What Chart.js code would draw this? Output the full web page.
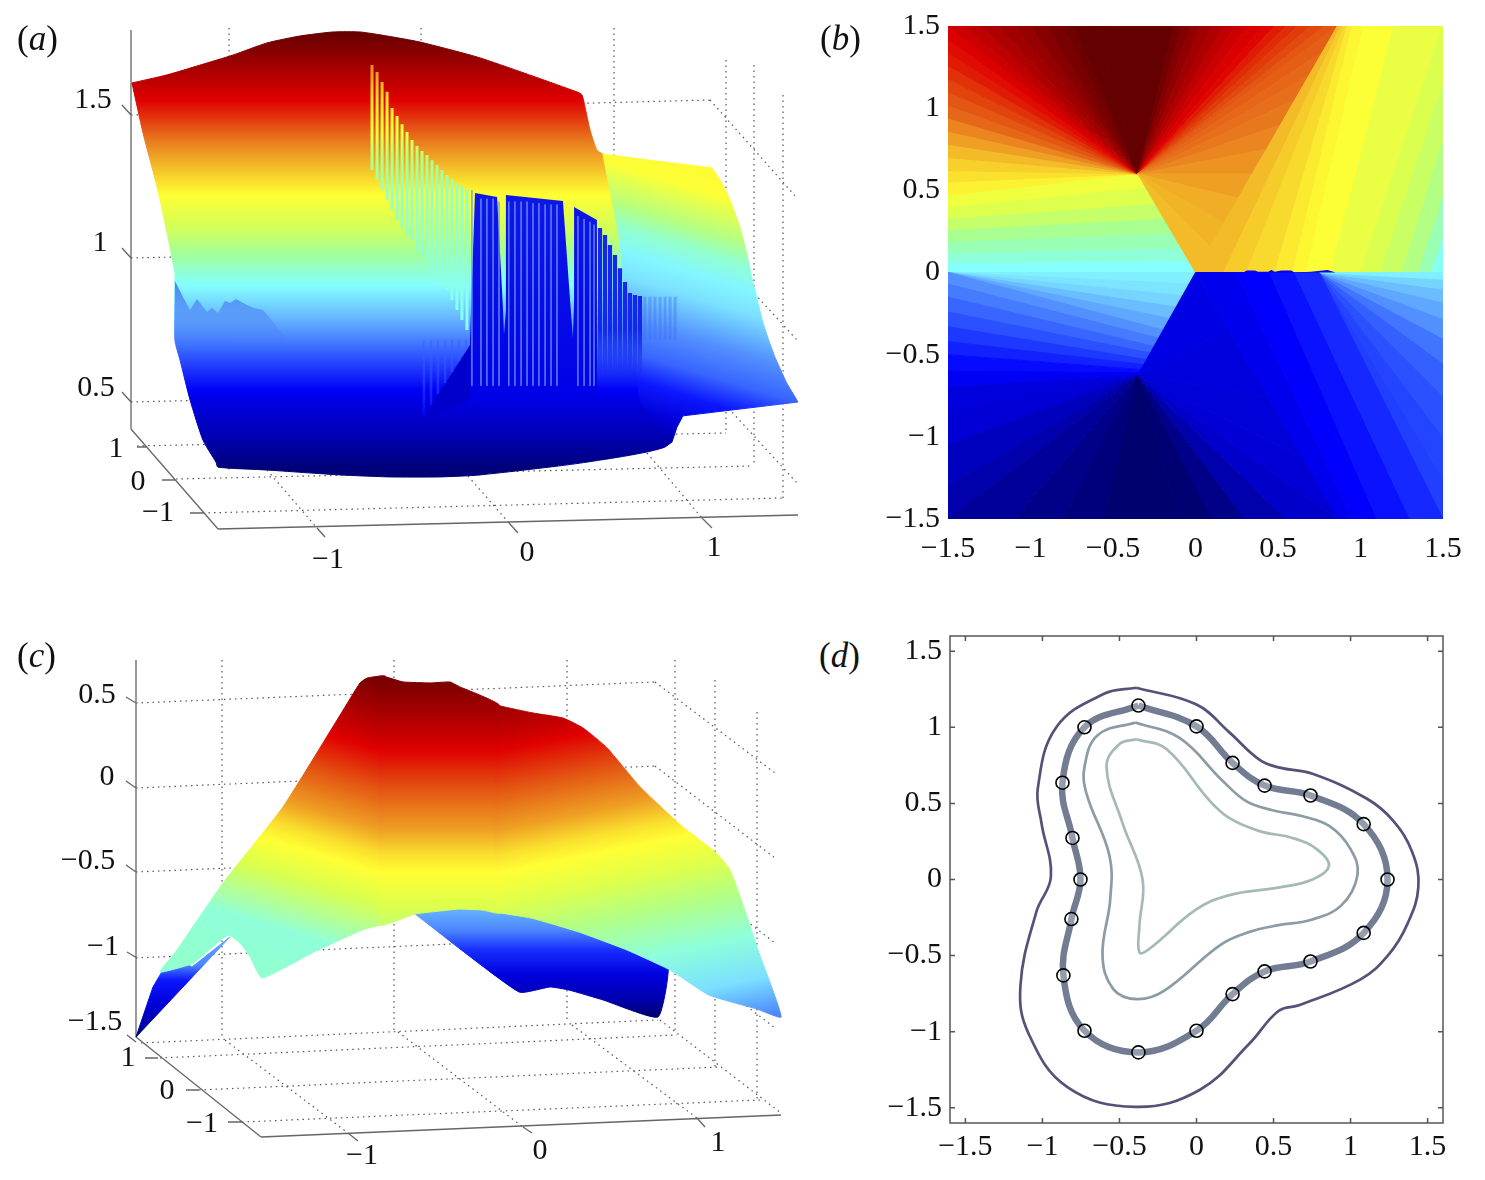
<!DOCTYPE html>
<html>
<head>
<meta charset="utf-8">
<script src="https://cdn.jsdelivr.net/npm/chart.js@4/dist/chart.umd.js"></script>
<style>
  body { margin: 0; background: #fff; width: 1485px; height: 1180px; overflow: hidden; position: relative; }
  canvas { position: absolute; }
  .tag { position: absolute; font: 35px "Liberation Serif", serif; color: #111; line-height: 36px; }
</style>
</head>
<body>
<canvas id="panelA" width="816" height="576" style="left:0;top:0"></canvas>
<canvas id="panelB" width="620" height="575" style="left:860px;top:0"></canvas>
<canvas id="panelC" width="800" height="588" style="left:0;top:586px"></canvas>
<canvas id="panelD" width="620" height="570" style="left:860px;top:610px"></canvas>
<div class="tag" style="left:17px;top:21px">(<i>a</i>)</div>
<div class="tag" style="left:820px;top:21px">(<i>b</i>)</div>
<div class="tag" style="left:17px;top:638px">(<i>c</i>)</div>
<div class="tag" style="left:819px;top:638px">(<i>d</i>)</div>
<script>
// colour scale of the surfaces (level 0..1)
const levelStops = [0, .1, .18, .25, .32, .38, .42, .5, .56, .625, .69, .75, .82, .875, .94, 1];
const levelRgb = [[0,0,110],[0,0,200],[0,0,255],[42,80,255],[90,155,255],[123,224,255],[133,255,255],[160,255,156],
  [216,255,80],[255,255,51],[245,200,42],[232,120,30],[224,60,10],[224,0,0],[160,0,0],[100,0,0]];

// ---- panel (a): surface outline, x / z
const aSurfaceX = [-2.0625,-1.88,-1.708,-1.536,-1.359,-1.1875,-1.016,-.875,-.734,-.5625,-.25,.255,.281,.297,.323,.359,.39,.5,.85,.8,.72,.714,.271,-.25,-.458,-.719,-.979,-1.359,-1.615,-1.625,-1.693,-1.76,-1.8125,-1.839,-1.839,-1.839,-1.88,-1.932,-2.005];
const aSurfaceZ = [1.612,1.64,1.674,1.709,1.751,1.775,1.789,1.789,1.775,1.754,1.699,1.581,1.57,1.528,1.449,1.379,1.365,1.33,1.28,.8,.42,.348,.292,.251,.244,.244,.251,.268,.278,.295,.372,.511,.65,.719,.924,.952,1.091,1.251,1.438];
const aShelfX = [.39,.547,.958,1,1.036,1.068,1.104,1.141,1.172,1.198,1.224,1.255,1.286,1.344,1.406,.807,.776,.75,.714,.583,.505,.479,.427];
const aShelfZ = [1.365,1.351,1.317,1.275,1.23,1.178,1.112,1.015,.917,.848,.778,.716,.66,.574,.504,.456,.417,.365,.348,.511,.858,1.067,1.24];
const aBlockX = [-.276,-.161,-.13,-.125,-.115,-.115,.182,.219,.234,.24,.24,.359,.359,-.302,-.302];
const aBlockZ = [1.23,1.216,.824,.737,.824,1.223,1.202,.858,.726,.858,1.181,1.136,.511,.511,.72];
// columns stepping down on the right of the blocks
const aStepX = [.375,.401,.427,.453,.479,.505,.531,.557,.583];
const aStepTop = [1.108,1.084,1.049,1.015,.969,.921,.883,.876,.872];
const aFaintX = [.609,.635,.661,.688,.714,.74,.766];
const aRippleX = [-1.839,-1.797,-1.76,-1.724,-1.672,-1.646,-1.615,-1.578,-1.552,-1.521,-1.464,-1.432,-1.38,-1.25,-1.839];
const aRippleZ = [.924,.869,.824,.862,.817,.831,.813,.855,.848,.862,.841,.831,.824,.72,.702];
const aToothX = [-.302,-.302,-.5625];
const aToothZ = [.702,.511,.431];
// thin columns falling from the ridge
const aPaleX = [-.8125,-.786,-.76,-.734,-.708,-.682,-.656,-.63,-.604,-.578,-.552,-.526,-.5,-.474,-.448,-.422,-.396,-.37,-.344,-.318];
const aPaleTop = [1.674,1.65,1.615,1.581,1.525,1.497,1.469,1.442,1.414,1.393,1.376,1.362,1.344,1.327,1.31,1.292,1.278,1.265,1.254,1.244];
const aPaleEnd = [1.31,1.275,1.24,1.206,1.171,1.136,1.108,1.084,1.067,1.032,1.015,.997,.963,.945,.91,.893,.858,.824,.789,.754];
const aStreakX = [-.292,-.245,-.214,-.182,-.151,-.1,-.068,-.036,-.005,.026,.057,.089,.12,.151,.26,.292,.323,.344];
const aStreakTop = [1.24,1.21,1.21,1.21,1.2,1.2,1.2,1.2,1.2,1.195,1.195,1.19,1.19,1.19,1.15,1.14,1.13,1.12];
const aToothStripeX = [-.542,-.505,-.469,-.432,-.396,-.359,-.323];
const aToothStripeEnd = [.456,.494,.532,.57,.608,.647,.685];
// colour against height on the picture
const aHeightPx = [32,70,100,140,175,195,230,255,285,320,350,390,410,440,470];
const aHeightLevel = [1,.93,.875,.75,.68,.625,.55,.5,.42,.34,.27,.17,.12,.07,.01];
const aShelfPx = [130,164,190,230,250,275,300,340,373,400,430,460];
const aShelfLevel = [.64,.63,.62,.52,.46,.41,.38,.31,.27,.2,.12,.05];
const aPalePx = [65,100,130,160,190,240,330];
const aPaleLevel = [.74,.66,.6,.52,.47,.46,.42];
const aToothPx = [340,420];
const aToothLevel = [.28,.17];

const aLabels = ['1.5','1','0.5','1','0','−1','−1','0','1'];
const aLabelPos = [[93,100],[100,243],[96,388],[116,449],[138,482],[158,513],[328,560],[527,553],[714,548]];
const aAxisSegs = [[131,30,131,429],[131,429,218,529],[218,529,798,515],
  [122,105,131,115],[122,248,131,258],[122,392,131,402],[137,447,147,447],[162,480,175,480],[190,513,203,513],
  [317,528,325,537],[509,523,518,533],[702,518,712,528]];
const aGridSegs = [[229,28,229,470],[421,28,421,478],[614,28,614,433],[726,60,726,433],[754,65,754,465],[783,95,783,498],
  [131,115,710,100],[710,100,797,198],[131,258,710,245],[710,245,797,340],[131,402,710,388],[710,388,797,483],
  [137,446,726,433],[176,479,753,466],[203,513,782,498],[267,470,317,528],[468,476,509,523],[647,453,702,518]];

// ---- panel (b): fans of shaded sectors
const bUpperApex = [-.35, .6];
const bUpperX = [-1.5,-1.5,-1.5,-1.5,-1.5,-1.5,-1.5,-1.5,-1.5,-1.5,-1.5,-1.5,-1.5,-1.5,
  -1.4,-1.3,-1.2,-1.1,-1,-.9,-.8,-.73,-.6,-.5,-.13,-.08,-.03,.03,.1,.17,.24,.32,.41,.48,.55,.62,.7,.78,.86,
  .78,.69,.6,.52,.43,.34,.26,.17,.09,0];
const bUpperY = [.47,.55,.62,.7,.78,.86,.94,1.02,1.1,1.18,1.26,1.34,1.42,1.5,
  1.5,1.5,1.5,1.5,1.5,1.5,1.5,1.5,1.5,1.5,1.5,1.5,1.5,1.5,1.5,1.5,1.5,1.5,1.5,1.5,1.5,1.5,1.5,1.5,1.5,
  1.35,1.2,1.05,.9,.75,.6,.45,.3,.15,0];
const bUpperLevel = [.64,.66,.68,.7,.72,.74,.77,.79,.81,.83,.85,.865,.88,
  .895,.91,.925,.94,.95,.965,.98,.99,1,1,1,.985,.97,.955,.94,.925,.91,.895,.88,.87,.85,.835,.82,.805,.79,
  .78,.77,.76,.75,.74,.73,.72,.71,.705,.7];
const bMidLeftY = [0,.06,.12,.19,.26,.33,.4,.47];
const bMidRightX = [0,-.04,-.09,-.14,-.19,-.245,-.3,-.35];
const bMidRightY = [0,.07,.15,.24,.33,.42,.52,.6];
const bMidLevel = [.42,.45,.48,.51,.54,.57,.6];
const bRightBaseX = [0,.17,.31,.48,.59,.67,.82,1,1.12,1.25,1.35,1.43,1.5];
const bRightEndX = [.86,.88,.9,.92,.95,1.02,1.2,1.5,1.5,1.5,1.5,1.5,1.5];
const bRightEndY = [1.5,1.5,1.5,1.5,1.5,1.5,1.5,1.5,1.15,.8,.45,.2,0];
const bRightLevel = [.7,.685,.67,.65,.635,.62,.59,.565,.545,.52,.48,.43];
const bPaleApex = [-1.5, 0];
const bPaleX = [0,-.039,-.078,-.118,-.157,-.196];
const bPaleY = [0,-.07,-.14,-.21,-.28,-.35];
const bPaleLevel = [.4,.385,.37,.35,.33];
const bLowLeftY = [0,-.07,-.15,-.24,-.33,-.42,-.5,-.6,-.7];
const bLowRightX = [-.196,-.224,-.252,-.274,-.297,-.314,-.33,-.342,-.35];
const bLowRightY = [-.35,-.4,-.45,-.49,-.53,-.56,-.59,-.61,-.625];
const bLowLevel = [.31,.29,.27,.25,.23,.21,.19,.165];
const bLowerApex = [-.35, -.625];
const bLowerX = [-1.5,-1.5,-1.5,-1.5,-1.5,-1.1,-.8,-.55,-.1,.1,.3,.55,.86,.65,.43,.2,0];
const bLowerY = [-.7,-.85,-1.05,-1.3,-1.5,-1.5,-1.5,-1.5,-1.5,-1.5,-1.5,-1.5,-1.5,-1.13,-.75,-.35,0];
const bLowerLevel = [.13,.12,.09,.07,.05,.03,.015,0,.005,.03,.07,.105,.12,.125,.13,.14];
const bFallTopX = [0,.25,.45,.6,.75];
const bFallEndX = [.86,.95,1.1,1.3,1.5];
const bFallLevel = [.155,.175,.195,.215];
const bEdgeApex = [.75, 0];
const bEdgeY = [-1.5,-1.25,-1,-.75,-.55,-.4,-.28,-.18,-.1,-.04,0];
const bEdgeLevel = [.235,.24,.25,.265,.285,.31,.33,.35,.37,.4];
const bRimX = [.29,.31,.36,.38,.44,.46,.48,.52,.58,.6,.7,.8,.85];
const bRimY = [0,.012,.012,.005,.005,.015,.005,.012,.012,0,.005,.015,0];
const bTicks = [-1.5,-1,-.5,0,.5,1,1.5];

// ---- panel (c)
const cLeftX = [-.8,-.829,-.903,-.943,-1.074,-1.383,-1.726,-1.989,-2.086,-1.92,-1.891,-1.697,-1.629,-1.571,-1.503,-1.206,-.931,-.829,-.8];
const cLeftZ = [.665,.664,.652,.623,.402,-.115,-.568,-.967,-1.098,-1.056,-1.044,-.877,-.925,-1.008,-1.133,-.979,-.848,-.818,-.81];
const cMidX = [-.829,-.811,-.697,-.543,-.429,-.371,-.143,-.143,-.24,-.377,-.629,-.829];
const cMidZ = [.664,.664,.629,.623,.629,.599,.486,-.746,-.729,-.723,-.752,-.818];
const cRightX = [-.17,-.143,.046,.217,.331,.469,.657,.903,1.086,1.171,1.269,1.331,1.463,1.326,1.051,.829,.583,.309,.034,-.143,-.17];
const cRightZ = [.5,.486,.444,.414,.355,.236,.004,-.235,-.383,-.49,-.77,-.967,-1.365,-1.318,-1.235,-1.086,-.967,-.86,-.776,-.746,-.74];
const cUnderX = [-.629,-.377,.034,.583,.817,.76,.446,.251,.143,-.034];
const cUnderZ = [-.752,-.669,-.699,-.877,-1.026,-1.365,-1.264,-1.205,-1.187,-1.217];
const cArmX = [-2.223,-2.126,-2.069,-1.971,-1.903,-1.686];
const cArmZ = [-1.485,-1.187,-1.086,-1.026,-1.068,-.889];
const cHeightPx = [680,700,735,750,790,830,855,873,905,940,985,1030,1070,1090];
const cRightLevel = [.98,.95,.9,.875,.79,.72,.66,.625,.57,.52,.45,.38,.3,.27];
const cLeftPx = [680,700,735,750,790,830,855,873,905,960,1020,1060];
const cLeftLevel = [.98,.95,.9,.875,.79,.72,.66,.625,.56,.45,.46,.44];
const cUnderPx = [910,930,950,975,1000,1017];
const cUnderLevel = [.34,.3,.22,.13,.07,0];
const cArmPx = [937,965,980,1005,1037];
const cArmLevel = [.33,.3,.2,.12,.03];

const cLabels = ['0.5','0','−0.5','−1','−1.5','1','0','−1','−1','0','1'];
const cLabelPos = [[97,695],[107,777],[88,861],[103,947],[95,1022],[128,1058],[167,1091],[202,1124],[362,1156],[540,1151],[718,1143]];
const cAxisSegs = [[136,660,136,1037],[136,1037,261,1137],[261,1137,781,1115],
  [126,697,136,703],[126,781,136,788],[126,865,136,872],[127,952,137,958],[127,1035,136,1042],
  [145,1058,158,1058],[186,1090,199,1090],[228,1122,242,1122],[348,1133,358,1141],[523,1127,532,1133],[697,1118,705,1127]];
const cGridSegs = [[222,660,222,1037],[394,660,394,1030],[567,660,567,1022],[675,660,675,1032],[715,680,715,1067],[757,712,757,1100],
  [136,703,655,682],[655,682,775,773],[136,788,655,766],[655,766,775,858],[136,872,655,850],[655,850,775,943],[136,958,655,935],[655,935,775,1028],
  [141,1043,658,1020],[160,1058,677,1035],[199,1090,718,1067],[242,1122,760,1100],
  [225,1040,348,1133],[398,1032,523,1127],[572,1025,697,1118],[660,1020,781,1113]];

// ---- panel (d): level curves and collocation points
const dOuterX = [-.39,0,.21,.41,.54,.753,1.104,1.273,1.4,1.44,1.37,1.247,1.065,.67,.532,.344,.02,-.396,-.838,-1.09,-1.143,-1.04,-.945,-1.006,-1.03,-.91,-.6];
const dOuterY = [1.26,1.15,.97,.786,.735,.695,.532,.39,.18,-.05,-.29,-.494,-.656,-.825,-.864,-1.078,-1.383,-1.494,-1.364,-1.013,-.7,-.214,.02,.37,.6,1,1.22];
const dMiddleX = [-.396,-.11,.169,.325,.494,.688,.864,1,1.045,.94,.74,.532,.344,.156,-.214,-.39,-.54,-.61,-.56,-.565,-.714,-.727,-.64];
const dMiddleY = [1.032,.93,.649,.513,.455,.416,.35,.2,.03,-.17,-.266,-.3,-.344,-.429,-.734,-.786,-.72,-.5,-.13,.156,.565,.74,.95];
const dInnerX = [-.39,-.195,.084,.214,.409,.623,.78,.86,.753,.539,.208,-.006,-.305,-.37,-.37,-.35,-.48,-.584,-.5];
const dInnerY = [.922,.857,.519,.403,.318,.273,.2,.09,0,-.052,-.104,-.2,-.455,-.48,-.3,0,.37,.74,.89];
const dPointX = [-.377,0,.234,.442,.74,1.085,1.24,1.085,.74,.442,.234,0,-.377,-.727,-.864,-.812,-.753,-.805,-.87,-.727];
const dPointY = [1.143,1.006,.766,.617,.552,.364,0,-.351,-.539,-.604,-.753,-.994,-1.136,-.994,-.63,-.26,0,.273,.636,1];
const dTicks = [-1.5,-1,-.5,0,.5,1,1.5];

const tickFont = { family: '"Liberation Serif", serif', size: 30 };
const minusFmt = v => (v < 0 ? '−' + Math.abs(v) : String(v));

function level(j) {
  let i = 0;
  while (i < levelStops.length - 2 && j > levelStops[i + 1]) i++;
  const f = Math.min(1, Math.max(0, (j - levelStops[i]) / (levelStops[i + 1] - levelStops[i])));
  const c = levelRgb[i].map((v, k) => Math.round(v + (levelRgb[i + 1][k] - v) * f));
  return `rgb(${c[0]},${c[1]},${c[2]})`;
}

const zip = (xs, ys) => xs.map((x, i) => ({ x, y: ys[i] }));

function poly(points, color, border) {
  return {
    data: [...points, points[0]], fill: 'shape', backgroundColor: color,
    borderColor: color, borderWidth: border === undefined ? 1 : border, pointRadius: 0, tension: 0
  };
}

// gradient between two screen points, or nothing while the scales are not laid out yet
function screenGradient(chart, x0, y0, x1, y1) {
  const sx = chart.scales.xs, sy = chart.scales.ys;
  const a = [sx.getPixelForValue(x0), sy.getPixelForValue(y0), sx.getPixelForValue(x1), sy.getPixelForValue(y1)];
  return a.every(Number.isFinite) ? chart.ctx.createLinearGradient(a[0], a[1], a[2], a[3]) : null;
}

// gradient whose iso-lines have the given slope; stops are screen heights
function slopeGradient(chart, xRef, slope, px, levels) {
  const y0 = px[0], len = px[px.length - 1] - y0, d = len / (1 + slope * slope);
  const g = screenGradient(chart, xRef, y0, xRef + slope * d, y0 + d);
  if (!g) return 'transparent';
  px.forEach((p, i) => g.addColorStop((p - y0) / len, level(levels[i])));
  return g;
}

function fadeGradient(chart, x0, y0, x1, y1, colors) {
  const g = screenGradient(chart, x0, y0, x1, y1);
  if (!g) return 'transparent';
  colors.forEach((col, i) => g.addColorStop(i / (colors.length - 1), col));
  return g;
}

function segments(list, color, width, dash) {
  const data = [];
  list.forEach(s => data.push({ x: s[0], y: s[1] }, { x: s[2], y: s[3] }, { x: NaN, y: NaN }));
  return { data, xAxisID: 'xs', yAxisID: 'ys', borderColor: color, borderWidth: width, borderDash: dash || [], pointRadius: 0, fill: false, tension: 0 };
}

function columns(xs, tops, ends, color, width) {
  const data = [];
  xs.forEach((x, i) => data.push({ x, y: tops[i] }, { x, y: ends[i] }, { x: NaN, y: NaN }));
  return { data, borderColor: color, borderWidth: width, pointRadius: 0, fill: false, tension: 0 };
}

function gradientPoly(xs, zs, xRef, slope, px, levels, tension) {
  const d = poly(zip(xs, zs), 'transparent', 1);
  const paint = c => slopeGradient(c.chart, xRef, slope, px, levels);
  d.backgroundColor = paint;
  d.borderColor = paint;
  d.tension = tension || 0;
  return d;
}

function fadePoly(xs, zs, x0, y0, x1, y1, colors) {
  const d = poly(zip(xs, zs), 'transparent', 0);
  d.backgroundColor = c => fadeGradient(c.chart, x0, y0, x1, y1, colors);
  return d;
}

const labelPlugin = (texts, pos) => ({
  id: 'oblique',
  afterDraw(chart) {
    const c = chart.ctx;
    c.save();
    c.font = `${tickFont.size}px ${tickFont.family}`;
    c.fillStyle = '#111';
    c.textAlign = 'center';
    c.textBaseline = 'middle';
    texts.forEach((t, i) => c.fillText(t, chart.scales.xs.getPixelForValue(pos[i][0]), chart.scales.ys.getPixelForValue(pos[i][1])));
    c.restore();
  }
});

function surfaceChart(id, datasets, xRange, zRange, screen, plugin) {
  datasets.forEach((d, i) => { d.order = -i; });
  return new Chart(document.getElementById(id), {
    type: 'line',
    data: { datasets },
    options: {
      responsive: false, animation: false,
      layout: { padding: 0 },
      plugins: { legend: { display: false }, tooltip: { enabled: false } },
      scales: {
        x: { type: 'linear', display: false, min: xRange[0], max: xRange[1] },
        y: { type: 'linear', display: false, min: zRange[0], max: zRange[1] },
        xs: { type: 'linear', axis: 'x', position: 'bottom', display: false, min: screen[0], max: screen[1] },
        ys: { type: 'linear', axis: 'y', position: 'left', display: false, min: screen[2], max: screen[3], reverse: true }
      }
    },
    plugins: [plugin]
  });
}

// panel (a)
surfaceChart('panelA', [
  segments(aGridSegs, '#555', 1.2, [1.5, 4]),
  segments(aAxisSegs, '#666', 1.3),
  gradientPoly(aSurfaceX, aSurfaceZ, 400, 0, aHeightPx, aHeightLevel, .2),
  gradientPoly(aShelfX, aShelfZ, 700, -.3, aShelfPx, aShelfLevel),
  columns(aFaintX, aFaintX.map(() => .87), aFaintX.map(() => .72), 'rgba(60,110,240,.4)', 3),
  columns(aStepX, aStepTop, aStepX.map(() => .55), c => fadeGradient(c.chart, 0, 330, 0, 385, ['rgba(20,40,235,1)', 'rgba(20,40,235,0)']), 4.2),
  fadePoly(aRippleX, aRippleZ, 0, 281, 0, 345, ['rgba(70,130,240,1)', 'rgba(70,110,240,0)']),
  poly(zip(aToothX, aToothZ), 'rgb(0,0,205)', 0),
  columns(aToothStripeX, aToothStripeX.map(() => .72), aToothStripeEnd, c => slopeGradient(c.chart, 400, 0, aToothPx, aToothLevel), 2.5),
  columns(aPaleX, aPaleTop, aPaleEnd, c => slopeGradient(c.chart, 400, 0, aPalePx, aPaleLevel), 3),
  fadePoly(aBlockX, aBlockZ, 0, 193, 0, 400, ['rgb(15,25,230)', 'rgb(0,0,231)']),
  columns(aStreakX, aStreakTop, aStreakX.map(() => .56), 'rgba(110,150,255,.6)', 1)
], [-2.75, 1.5], [-.1, 1.9], [0, 816, 0, 576], labelPlugin(aLabels, aLabelPos));

// panel (c)
surfaceChart('panelC', [
  segments(cGridSegs, '#555', 1.2, [1.5, 4]),
  segments(cAxisSegs, '#666', 1.3),
  gradientPoly(cArmX, cArmZ, 200, 0, cArmPx, cArmLevel),
  gradientPoly(cUnderX, cUnderZ, 500, 0, cUnderPx, cUnderLevel, .15),
  gradientPoly(cLeftX, cLeftZ, 380, -.3, cLeftPx, cLeftLevel, .15),
  gradientPoly(cMidX, cMidZ, 440, 0, cHeightPx, cRightLevel, .1),
  gradientPoly(cRightX, cRightZ, 500, .2, cHeightPx, cRightLevel, .15)
], [-3, 1.571], [-2.3, 1.2], [0, 800, 586, 1174], labelPlugin(cLabels, cLabelPos));

// panel (b)
function fan(apex, xs, ys, levels) {
  const out = [];
  levels.forEach((j, i) => out.push(poly([{ x: apex[0], y: apex[1] }, { x: xs[i], y: ys[i] }, { x: xs[i + 1], y: ys[i + 1] }], level(j))));
  return out;
}
function bands(x1, y1, x2, y2, levels) {
  const out = [];
  levels.forEach((j, i) => out.push(poly([{ x: x1[i], y: y1[i] }, { x: x1[i + 1], y: y1[i + 1] }, { x: x2[i + 1], y: y2[i + 1] }, { x: x2[i], y: y2[i] }], level(j))));
  return out;
}
const bSets = [
  ...bands(bMidLeftY.map(() => -1.5), bMidLeftY, bMidRightX, bMidRightY, bMidLevel),
  ...fan(bUpperApex, bUpperX, bUpperY, bUpperLevel),
  ...bands(bRightBaseX, bRightBaseX.map(() => 0), bRightEndX, bRightEndY, bRightLevel),
  ...fan(bEdgeApex, bEdgeY.map(() => 1.5), bEdgeY, bEdgeLevel),
  ...bands(bFallTopX, bFallTopX.map(() => 0), bFallEndX, bFallTopX.map(() => -1.5), bFallLevel),
  ...fan(bPaleApex, bPaleX, bPaleY, bPaleLevel),
  ...bands(bLowLeftY.map(() => -1.5), bLowLeftY, bLowRightX, bLowRightY, bLowLevel),
  ...fan(bLowerApex, bLowerX, bLowerY, bLowerLevel),
  poly(zip(bRimX, bRimY), level(.17), 0)
];
bSets.forEach((d, i) => { d.order = -i; });

function tickScale(vals, min, max, side, gap) {
  return {
    type: 'linear', min, max, position: side,
    border: { display: false }, grid: { display: false, drawTicks: false },
    afterBuildTicks: s => { s.ticks = vals.map(value => ({ value })); },
    afterFit: s => { if (side === 'left') s.width = 88; else s.height = 56; },
    ticks: { font: tickFont, color: '#111', padding: gap, maxRotation: 0, autoSkip: false, callback: minusFmt }
  };
}

new Chart(document.getElementById('panelB'), {
  type: 'line',
  data: { datasets: bSets },
  options: {
    responsive: false, animation: false,
    layout: { padding: { top: 25, right: 37 } },
    plugins: { legend: { display: false }, tooltip: { enabled: false } },
    scales: { x: tickScale(bTicks, -1.5, 1.5, 'bottom', 12), y: tickScale(bTicks, -1.5, 1.5, 'left', 8) }
  }
});

// panel (d)
const frame = {
  id: 'frame',
  afterDatasetsDraw(chart) {
    const c = chart.ctx, a = chart.chartArea, sx = chart.scales.x, sy = chart.scales.y;
    c.save();
    c.strokeStyle = '#555';
    c.lineWidth = 1.5;
    c.strokeRect(a.left, a.top, a.right - a.left, a.bottom - a.top);
    c.beginPath();
    dTicks.forEach(v => {
      const px = sx.getPixelForValue(v), py = sy.getPixelForValue(v);
      c.moveTo(px, a.top); c.lineTo(px, a.top + 5);
      c.moveTo(px, a.bottom); c.lineTo(px, a.bottom - 5);
      c.moveTo(a.left, py); c.lineTo(a.left + 5, py);
      c.moveTo(a.right, py); c.lineTo(a.right - 5, py);
    });
    c.stroke();
    c.restore();
  }
};
const loop = (xs, ys) => [...zip(xs, ys), { x: xs[0], y: ys[0] }];
const curve = (pts, color, width) => ({ data: pts, borderColor: color, borderWidth: width, pointRadius: 0, fill: false, tension: .4 });
const dSets = [
  { data: zip(dPointX, dPointY), showLine: false, pointRadius: 6.5, pointBorderColor: '#000', pointBorderWidth: 1.6, pointBackgroundColor: 'rgba(255,255,255,.25)' },
  curve(loop(dPointX, dPointY), '#727c92', 6.5),
  curve(loop(dOuterX, dOuterY), '#55527a', 2.7),
  curve(loop(dMiddleX, dMiddleY), '#8b9ca6', 2.7),
  curve(loop(dInnerX, dInnerY), '#a5b9b9', 2.7)
];
const dScale = (side, gap) => {
  const s = tickScale(dTicks, -1.6, 1.6, side, gap);
  s.afterFit = a => { if (side === 'left') a.width = 90; else a.height = 57; };
  return s;
};
new Chart(document.getElementById('panelD'), {
  type: 'line',
  data: { datasets: dSets },
  options: {
    responsive: false, animation: false,
    layout: { padding: { top: 22, right: 37 } },
    plugins: { legend: { display: false }, tooltip: { enabled: false } },
    scales: { x: dScale('bottom', 6), y: dScale('left', 8) }
  },
  plugins: [frame]
});
</script>
</body>
</html>
